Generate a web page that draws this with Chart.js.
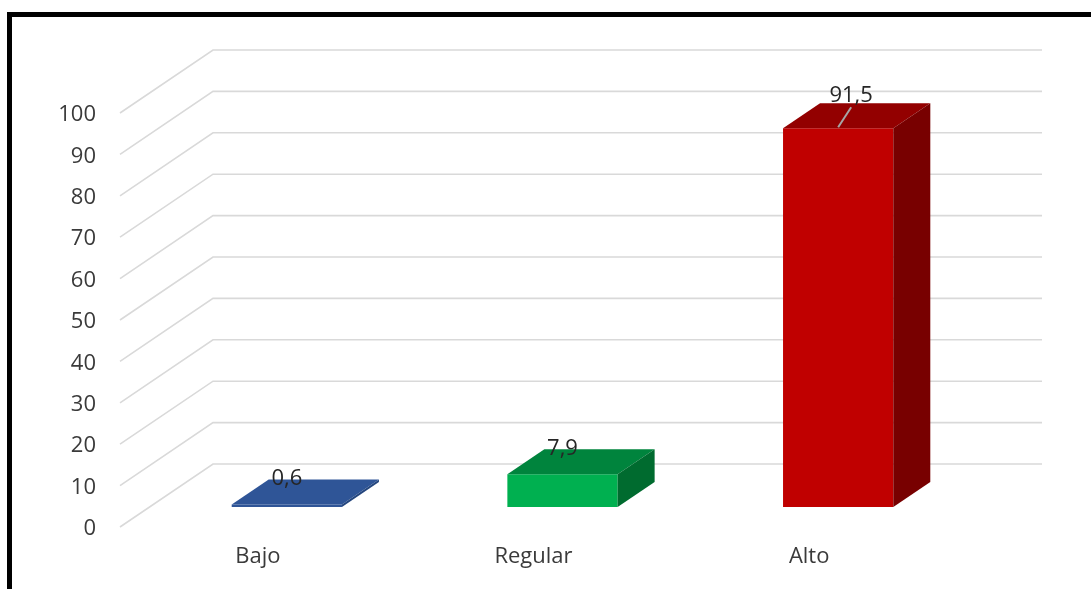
<!DOCTYPE html>
<html>
<head>
<meta charset="utf-8">
<script src="https://cdn.jsdelivr.net/npm/chart.js@4.4.1/dist/chart.umd.min.js"></script>
<style>
  html, body { margin: 0; padding: 0; background: #ffffff; }
  #wrap { position: relative; width: 1091px; height: 589px; overflow: hidden; background: #fff; }
  #frame { position: absolute; left: 7px; top: 12px; width: 1200px; height: 700px;
           border-top: 5px solid #000; border-left: 5px solid #000; box-sizing: border-box; pointer-events: none; }
  canvas { position: absolute; left: 0; top: 0; }
</style>
</head>
<body>
<div id="wrap">
  <canvas id="c" width="1091" height="589"></canvas>
  <div id="frame"></div>
</div>
<script>
const categories = ["Bajo", "Regular", "Alto"];
const values = [0.6, 7.9, 91.5];
const valueLabels = ["0,6", "7,9", "91,5"];
const yTicks = [0, 10, 20, 30, 40, 50, 60, 70, 80, 90, 100];

const frontColors = ["#2F5597", "#00B050", "#C00000"];
const topColors   = ["#2F5597", "#00843D", "#930000"];
const sideColors  = ["#24467E", "#006B2F", "#780000"];

const FONT = '"Open Sans", "Noto Sans", sans-serif';
const BAR_DX = 37, BAR_DY = -25;      // bar depth
const FLOOR_FX = -29, FLOOR_FY = 20;  // front plane relative to bar front plane
const WALL_BX = 64, WALL_BY = -43;    // back plane relative to bar front plane

const threeD = {
  id: 'threeD',
  beforeDatasetsDraw(chart) {
    const ctx = chart.ctx, ys = chart.scales.y, ca = chart.chartArea;
    ctx.save();
    ctx.strokeStyle = '#D9D9D9';
    ctx.lineWidth = 1.6;
    yTicks.forEach(v => {
      const py = ys.getPixelForValue(v);
      ctx.beginPath();
      ctx.moveTo(ca.left + FLOOR_FX, py + FLOOR_FY);
      ctx.lineTo(ca.left + WALL_BX, py + WALL_BY);
      ctx.lineTo(ca.right + 66, py + WALL_BY);
      ctx.stroke();
    });
    ctx.fillStyle = '#3A3A3A';
    ctx.font = '22px ' + FONT;
    ctx.textAlign = 'right';
    ctx.textBaseline = 'middle';
    yTicks.forEach(v => {
      const py = ys.getPixelForValue(v);
      ctx.fillText(String(v), 96, py + FLOOR_FY + 2);
    });
    ctx.textAlign = 'center';
    const meta = chart.getDatasetMeta(0);
    meta.data.forEach((el, i) => {
      ctx.fillText(categories[i], el.x + FLOOR_FX, 557);
    });
    ctx.restore();
  },
  afterDatasetsDraw(chart) {
    const ctx = chart.ctx;
    const meta = chart.getDatasetMeta(0);
    ctx.save();
    meta.data.forEach((el, i) => {
      const l = el.x - el.width / 2, r = el.x + el.width / 2;
      const t = el.y, b = el.base;
      // top face
      ctx.fillStyle = topColors[i];
      ctx.beginPath();
      ctx.moveTo(l, t); ctx.lineTo(r, t);
      ctx.lineTo(r + BAR_DX, t + BAR_DY); ctx.lineTo(l + BAR_DX, t + BAR_DY);
      ctx.closePath(); ctx.fill();
      // side face
      ctx.fillStyle = sideColors[i];
      ctx.beginPath();
      ctx.moveTo(r, t); ctx.lineTo(r + BAR_DX, t + BAR_DY);
      ctx.lineTo(r + BAR_DX, b + BAR_DY); ctx.lineTo(r, b);
      ctx.closePath(); ctx.fill();
    });
    // value labels
    ctx.fillStyle = '#262626';
    ctx.font = '22px ' + FONT;
    ctx.textAlign = 'center';
    ctx.textBaseline = 'middle';
    meta.data.forEach((el, i) => {
      const tall = (el.base - el.y) > 100;
      const lx = el.x + (tall ? 13 : 0);
      const ly = el.y + (tall ? -32 : -26);
      if (tall) {
        ctx.save();
        ctx.strokeStyle = '#A6A6A6';
        ctx.lineWidth = 2;
        ctx.beginPath();
        ctx.moveTo(el.x + 13, el.y - 21);
        ctx.lineTo(el.x, el.y - 1);
        ctx.stroke();
        ctx.restore();
      }
      ctx.fillText(valueLabels[i], lx, ly);
    });
    ctx.restore();
  }
};

new Chart(document.getElementById('c'), {
  type: 'bar',
  data: {
    labels: categories,
    datasets: [{
      data: values,
      backgroundColor: frontColors,
      borderWidth: 0,
      barPercentage: 0.8,
      categoryPercentage: 0.5
    }]
  },
  options: {
    responsive: false,
    animation: false,
    events: [],
    layout: { padding: { left: 149, right: 115, top: 93, bottom: 82 } },
    plugins: { legend: { display: false }, tooltip: { enabled: false }, title: { display: false } },
    scales: {
      x: { display: false },
      y: { display: false, min: 0, max: 100 }
    }
  },
  plugins: [threeD]
});
</script>
</body>
</html>
